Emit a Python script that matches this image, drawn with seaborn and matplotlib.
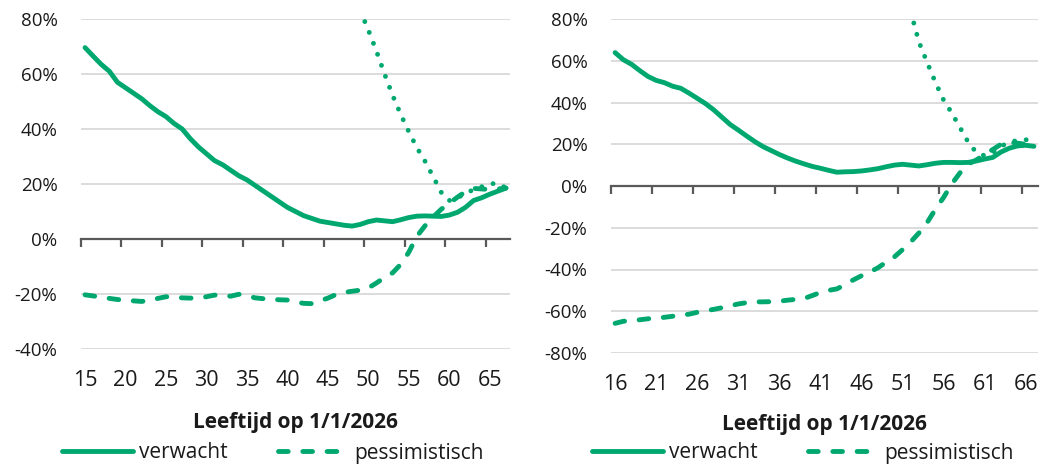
import matplotlib
matplotlib.use("Agg")
import matplotlib.pyplot as plt
import seaborn as sns
import pandas as pd
from matplotlib.lines import Line2D

# ---------------- data ----------------
ages_left = list(range(15, 68))
verwacht_left = [69.6, 66.5, 63.5, 61.0, 57.0, 55.0, 53.0, 51.0, 48.5, 46.3,
                 44.5, 42.0, 40.0, 36.5, 33.5, 31.0, 28.5, 27.0, 25.0, 23.0,
                 21.5, 19.5, 17.5, 15.5, 13.5, 11.5, 10.0, 8.5, 7.5, 6.5,
                 6.0, 5.5, 5.0, 4.7, 5.3, 6.3, 6.9, 6.6, 6.3, 7.0,
                 7.8, 8.3, 8.4, 8.3, 8.2, 8.7, 9.7, 11.5, 14.0, 15.0,
                 16.3, 17.4, 18.5]
pessimistisch_left = [-20.3, -20.7, -21.2, -21.6, -22.0, -22.3, -22.5, -22.7, -22.3, -21.6,
                      -21.0, -21.1, -21.4, -21.5, -21.4, -21.0, -20.4, -20.5, -20.8, -20.1,
                      -20.6, -21.4, -21.7, -21.9, -22.1, -22.2, -22.9, -23.4, -23.5, -22.5,
                      -21.5, -20.2, -19.4, -19.0, -18.6, -17.8, -16.0, -14.0, -12.3, -9.2,
                      -4.8, 1.0, 4.8, 8.0, 10.8, 13.0, 15.2, 17.2, 18.4, 18.2,
                      18.0, 18.2, 18.5]
ages_dotted_left = list(range(49, 68))
dotted_left = [83.0, 76.0, 68.3, 60.0, 52.2, 45.3, 39.0, 33.2, 28.3, 22.7,
               17.0, 14.0, 15.0, 16.5, 18.0, 19.0, 20.0, 20.3, 18.5]

ages_right = list(range(16, 68))
verwacht_right = [63.9, 60.5, 58.3, 55.3, 52.5, 50.6, 49.5, 47.8, 46.8, 44.5,
                  42.0, 39.5, 36.5, 33.0, 29.5, 26.8, 24.0, 21.3, 18.9, 17.0,
                  15.1, 13.4, 11.9, 10.6, 9.4, 8.5, 7.5, 6.6, 6.8, 6.9,
                  7.2, 7.7, 8.3, 9.2, 10.0, 10.4, 10.0, 9.6, 10.2, 10.9,
                  11.3, 11.3, 11.2, 11.3, 12.0, 12.9, 13.7, 16.3, 18.1, 19.2,
                  19.5, 19.0]
pessimistisch_right = [-65.8, -64.8, -64.4, -64.1, -63.6, -63.4, -62.9, -62.4, -61.9, -61.4,
                       -60.5, -59.8, -59.1, -58.3, -57.4, -56.5, -55.9, -55.5, -55.5, -55.4,
                       -55.2, -54.7, -54.3, -53.9, -52.5, -51.0, -50.0, -49.3, -47.3, -45.0,
                       -43.0, -41.2, -39.2, -36.5, -34.0, -30.5, -26.8, -22.5, -17.5, -11.2,
                       -5.5, 1.0, 6.3, 10.5, 12.5, 15.0, 17.5, 20.0, 21.0, 20.5,
                       20.0, 19.0]
ages_dotted_right = list(range(52, 68))
dotted_right = [83.5, 69.0, 59.2, 49.7, 41.2, 35.0, 28.0, 21.0, 16.0, 14.5,
                16.0, 19.0, 21.0, 21.8, 22.3, 19.5]

xticks_left = [15, 20, 25, 30, 35, 40, 45, 50, 55, 60, 65]
xticks_right = [16, 21, 26, 31, 36, 41, 46, 51, 56, 61, 66]
yticks_left = [-40, -20, 0, 20, 40, 60, 80]
yticks_right = [-80, -60, -40, -20, 0, 20, 40, 60, 80]
legend_labels = ["verwacht", "pessimistisch"]
xlabel_text = "Leeftijd op 1/1/2026"

# ---------------- style ----------------
GREEN = "#00A870"
GRID = "#d9d9d9"
AXIS = "#595959"
TEXT = "#1a1a1a"

sns.set_theme(style="white")
plt.rcParams["font.family"] = ["Open Sans", "DejaVu Sans"]
plt.rcParams["axes.unicode_minus"] = False

fig = plt.figure(figsize=(10.5, 4.68), dpi=100)
W, H = 1050, 468


def px_axes(x0, x1, ytop, ybot):
    return fig.add_axes([x0 / W, 1 - ybot / H, (x1 - x0) / W, (ybot - ytop) / H])


ax_l = px_axes(81, 510, 19, 349)
ax_r = px_axes(611, 1038, 19, 353)

LW = 3.5
dash_style = (0, (2.0, 3.0))
dot_style = (0, (0.01, 2.4))


def draw_panel(ax, ages, verw, pess, ages_dot, dot, xticks, yticks, ylim, xlim, zero_frac,
               legend_x, xlabelpad):
    df = pd.DataFrame({"age": ages, "verwacht": verw, "pessimistisch": pess})
    dfd = pd.DataFrame({"age": ages_dot, "dotted": dot})
    sns.lineplot(data=dfd, x="age", y="dotted", ax=ax, color=GREEN, lw=LW,
                 linestyle=dot_style, dash_capstyle="round", zorder=3)
    sns.lineplot(data=df, x="age", y="pessimistisch", ax=ax, color=GREEN, lw=LW,
                 linestyle=dash_style, dash_capstyle="round", zorder=4)
    sns.lineplot(data=df, x="age", y="verwacht", ax=ax, color=GREEN, lw=LW,
                 solid_capstyle="round", solid_joinstyle="round", zorder=5)

    ax.set_xlim(*xlim)
    ax.set_ylim(*ylim)
    ax.set_yticks(yticks)
    ax.set_yticklabels([f"{v}%" for v in yticks], fontsize=13.5, color=TEXT)
    ax.set_xticks(xticks)
    ax.set_xticklabels([str(v) for v in xticks], fontsize=15.5, color=TEXT)
    ax.tick_params(axis="both", length=0)
    ax.tick_params(axis="y", pad=17)
    ax.tick_params(axis="x", pad=15)
    for s in ax.spines.values():
        s.set_visible(False)
    ax.set_ylabel("")
    ax.set_xlabel(xlabel_text, fontsize=15, fontweight="bold", color=TEXT, labelpad=xlabelpad)
    # gridlines (except at zero)
    ax.grid(False)
    for v in yticks:
        if v != 0:
            ax.axhline(v, color=GRID, lw=1.3, zorder=1)

    # zero axis line with tick marks between categories
    sec = ax.secondary_xaxis(zero_frac)
    sec.xaxis.set_ticks_position("bottom")
    sec.spines["top"].set_visible(False)
    sec.spines["bottom"].set_visible(True)
    sec.spines["bottom"].set_color(AXIS)
    sec.spines["bottom"].set_linewidth(1.6)
    sec.set_xticks([t - 0.5 for t in xticks])
    sec.tick_params(axis="x", direction="out", length=5.5, width=1.6, color=AXIS,
                    labelbottom=False, labeltop=False, bottom=True, top=False)

    handles = [Line2D([], [], color=GREEN, lw=LW, solid_capstyle="round"),
               Line2D([], [], color=GREEN, lw=LW, linestyle=dash_style, dash_capstyle="round")]
    fig.legend(handles, legend_labels, loc="center", bbox_to_anchor=(legend_x / W, 1 - 453 / H),
               ncol=2, frameon=False, fontsize=15, handlelength=3.4, handletextpad=0.3,
               columnspacing=2.4, labelcolor=TEXT, borderpad=0)


draw_panel(ax_l, ages_left, verwacht_left, pessimistisch_left, ages_dotted_left, dotted_left,
           xticks_left, yticks_left, (-40, 80), (14.5, 67.5), 1 / 3, 273, 15)
draw_panel(ax_r, ages_right, verwacht_right, pessimistisch_right, ages_dotted_right, dotted_right,
           xticks_right, yticks_right, (-80, 80), (15.5, 67.5), 0.5, 803, 14)

fig.savefig("out.png", dpi=100)
